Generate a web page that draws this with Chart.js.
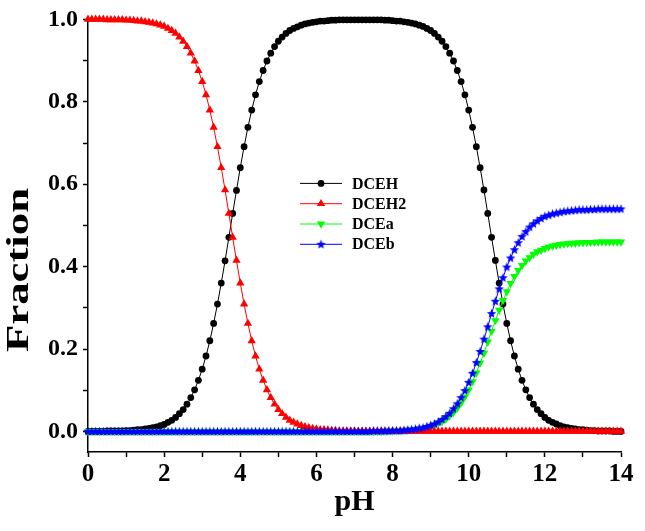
<!DOCTYPE html>
<html>
<head>
<meta charset="utf-8">
<script src="https://cdn.jsdelivr.net/npm/chart.js@4"></script>
<style>
  html, body { margin: 0; padding: 0; background: #fff; }
  #wrap { width: 645px; height: 531px; position: relative; }
</style>
</head>
<body>
<div id="wrap"><canvas id="fractionChart"></canvas></div>
<script>
// pH grid (x values)
const phValues = [
  0,0.1,0.2,0.3,0.4,0.5,0.6,0.7,0.8,0.9,
  1,1.1,1.2,1.3,1.4,1.5,1.6,1.7,1.8,1.9,
  2,2.1,2.2,2.3,2.4,2.5,2.6,2.7,2.8,2.9,
  3,3.1,3.2,3.3,3.4,3.5,3.6,3.7,3.8,3.9,
  4,4.1,4.2,4.3,4.4,4.5,4.6,4.7,4.8,4.9,
  5,5.1,5.2,5.3,5.4,5.5,5.6,5.7,5.8,5.9,
  6,6.1,6.2,6.3,6.4,6.5,6.6,6.7,6.8,6.9,
  7,7.1,7.2,7.3,7.4,7.5,7.6,7.7,7.8,7.9,
  8,8.1,8.2,8.3,8.4,8.5,8.6,8.7,8.8,8.9,
  9,9.1,9.2,9.3,9.4,9.5,9.6,9.7,9.8,9.9,
  10,10.1,10.2,10.3,10.4,10.5,10.6,10.7,10.8,10.9,
  11,11.1,11.2,11.3,11.4,11.5,11.6,11.7,11.8,11.9,
  12,12.1,12.2,12.3,12.4,12.5,12.6,12.7,12.8,12.9,
  13,13.1,13.2,13.3,13.4,13.5,13.6,13.7,13.8,13.9,
  14
];

const dceh = [
  0,0,0,0,0,0.001,0.001,0.001,0.001,0.001,
  0.002,0.002,0.003,0.004,0.004,0.006,0.007,0.009,0.011,0.014,
  0.017,0.022,0.027,0.034,0.043,0.053,0.066,0.082,0.101,0.124,
  0.151,0.183,0.220,0.262,0.309,0.360,0.414,0.471,0.529,0.585,
  0.640,0.691,0.738,0.780,0.817,0.849,0.876,0.899,0.918,0.934,
  0.947,0.957,0.966,0.973,0.978,0.982,0.986,0.989,0.991,0.993,
  0.994,0.996,0.996,0.997,0.998,0.998,0.999,0.999,0.999,0.999,
  0.999,0.999,0.999,0.999,0.999,0.999,0.999,0.999,0.998,0.998,
  0.997,0.996,0.996,0.994,0.993,0.991,0.989,0.986,0.983,0.978,
  0.973,0.966,0.957,0.947,0.934,0.918,0.899,0.876,0.849,0.817,
  0.780,0.738,0.691,0.640,0.586,0.529,0.471,0.415,0.360,0.309,
  0.262,0.220,0.183,0.151,0.124,0.101,0.082,0.066,0.053,0.043,
  0.034,0.027,0.022,0.018,0.014,0.011,0.009,0.007,0.006,0.004,
  0.004,0.003,0.002,0.002,0.001,0.001,0.001,0.001,0,0,
  0
];

const dceh2 = [
  1.000,1.000,1.000,1.000,1.000,0.999,0.999,0.999,0.999,0.999,
  0.998,0.998,0.997,0.996,0.996,0.994,0.993,0.991,0.989,0.986,
  0.983,0.978,0.973,0.966,0.957,0.947,0.934,0.918,0.899,0.876,
  0.849,0.817,0.780,0.738,0.691,0.640,0.586,0.529,0.471,0.415,
  0.360,0.309,0.262,0.220,0.183,0.151,0.124,0.101,0.082,0.066,
  0.053,0.043,0.034,0.027,0.022,0.018,0.014,0.011,0.009,0.007,
  0.006,0.004,0.004,0.003,0.002,0.002,0.001,0.001,0.001,0.001,
  0.001,0,0,0,0,0,0,0,0,0,
  0,0,0,0,0,0,0,0,0,0,
  0,0,0,0,0,0,0,0,0,0,
  0,0,0,0,0,0,0,0,0,0,
  0,0,0,0,0,0,0,0,0,0,
  0,0,0,0,0,0,0,0,0,0,
  0,0,0,0,0,0,0,0,0,0,
  0
];

const dcea = [
  0,0,0,0,0,0,0,0,0,0,
  0,0,0,0,0,0,0,0,0,0,
  0,0,0,0,0,0,0,0,0,0,
  0,0,0,0,0,0,0,0,0,0,
  0,0,0,0,0,0,0,0,0,0,
  0,0,0,0,0,0,0,0,0,0,
  0,0,0,0,0,0,0,0,0,0,
  0,0,0,0,0,0,0,0,0.001,0.001,
  0.001,0.002,0.002,0.003,0.003,0.004,0.005,0.006,0.008,0.010,
  0.012,0.016,0.020,0.024,0.030,0.038,0.046,0.057,0.069,0.084,
  0.101,0.121,0.142,0.166,0.190,0.217,0.243,0.269,0.294,0.318,
  0.339,0.359,0.376,0.391,0.403,0.414,0.422,0.430,0.436,0.440,
  0.444,0.448,0.450,0.452,0.454,0.455,0.456,0.457,0.457,0.458,
  0.458,0.459,0.459,0.459,0.460,0.460,0.460,0.460,0.460,0.460,
  0.460
];

const dceb = [
  0,0,0,0,0,0,0,0,0,0,
  0,0,0,0,0,0,0,0,0,0,
  0,0,0,0,0,0,0,0,0,0,
  0,0,0,0,0,0,0,0,0,0,
  0,0,0,0,0,0,0,0,0,0,
  0,0,0,0,0,0,0,0,0,0,
  0,0,0,0,0,0,0,0,0,0,
  0,0,0,0,0,0.001,0.001,0.001,0.001,0.001,
  0.002,0.002,0.002,0.003,0.004,0.005,0.006,0.008,0.009,0.012,
  0.015,0.018,0.023,0.029,0.036,0.044,0.055,0.067,0.082,0.099,
  0.119,0.141,0.167,0.194,0.224,0.254,0.286,0.316,0.346,0.373,
  0.399,0.421,0.441,0.458,0.473,0.485,0.496,0.504,0.511,0.517,
  0.522,0.525,0.528,0.530,0.532,0.534,0.535,0.536,0.537,0.538,
  0.538,0.538,0.539,0.539,0.540,0.540,0.540,0.540,0.540,0.540,
  0.540
];

const seriesNames = ['DCEH', 'DCEH2', 'DCEa', 'DCEb'];
const xTickValues = [0,1,2,3,4,5,6,7,8,9,10,11,12,13,14];
const yTickValues = [0,0.1,0.2,0.3,0.4,0.5,0.6,0.7,0.8,0.9,1.0];

const serif = "'Liberation Serif', 'Times New Roman', serif";

// filled 5-point star for DCEb markers
function makeStar(color) {
  const c = document.createElement('canvas');
  c.width = 11; c.height = 11;
  const g = c.getContext('2d');
  g.fillStyle = color;
  g.beginPath();
  for (let i = 0; i < 10; i++) {
    const r = i % 2 === 0 ? 5 : 2.1;
    const a = -Math.PI / 2 + i * Math.PI / 5;
    const px = 5.5 + r * Math.cos(a), py = 5.8 + r * Math.sin(a);
    i === 0 ? g.moveTo(px, py) : g.lineTo(px, py);
  }
  g.closePath();
  g.fill();
  return c;
}
const starImg = makeStar('#0000ff');

function pts(arr) {
  return phValues.map((x, i) => ({ x: x, y: arr[i] }));
}

const datasets = [
  { label: seriesNames[0], data: pts(dceh), borderColor: '#000000', backgroundColor: '#000000',
    pointStyle: 'circle', pointRadius: 3.4, pointRotation: 0, order: 3 },
  { label: seriesNames[1], data: pts(dceh2), borderColor: '#ff0000', backgroundColor: '#ff0000',
    pointStyle: 'triangle', pointRadius: 4.8, pointRotation: 0, order: 1 },
  { label: seriesNames[2], data: pts(dcea), borderColor: '#00ff00', backgroundColor: '#00ff00',
    pointStyle: 'triangle', pointRadius: 4.8, pointRotation: 180, order: 2 },
  { label: seriesNames[3], data: pts(dceb), borderColor: '#0000ff', backgroundColor: '#0000ff',
    pointStyle: starImg, pointRadius: 4.5, pointRotation: 0, order: 0 }
].map(d => Object.assign(d, {
  borderWidth: 1,
  pointBorderWidth: 0,
  tension: 0,
  clip: false
}));

// legend inside the plot + rotated y title
const extras = {
  id: 'extras',
  afterDraw(chart) {
    const ctx = chart.ctx;
    const area = chart.chartArea;
    ctx.save();
    // y axis title (stretched along its length like the original)
    ctx.translate(20, 270);
    ctx.rotate(-Math.PI / 2);
    ctx.scale(1.4, 1);
    ctx.fillStyle = '#000';
    ctx.font = 'bold 32px ' + serif;
    ctx.textAlign = 'center';
    ctx.textBaseline = 'middle';
    ctx.fillText('Fraction', 0, 0);
    ctx.restore();

    ctx.save();
    const x0 = area.left + 212, x1 = area.left + 254, xm = (x0 + x1) / 2;
    chart.data.datasets.forEach((ds, i) => {
      const y = area.top + 164 + i * 20.3;
      ctx.strokeStyle = ds.borderColor;
      ctx.lineWidth = 1;
      ctx.beginPath();
      ctx.moveTo(x0, y);
      ctx.lineTo(x1, y);
      ctx.stroke();
      ctx.fillStyle = ds.backgroundColor;
      Chart.helpers.drawPoint(ctx, {
        pointStyle: ds.pointStyle, radius: ds.pointRadius,
        rotation: ds.pointRotation, borderWidth: 0
      }, xm, y);
      ctx.fillStyle = '#000';
      ctx.font = 'bold 16px ' + serif;
      ctx.textAlign = 'left';
      ctx.textBaseline = 'middle';
      ctx.fillText(ds.label, area.left + 264, y + 1);
    });
    ctx.restore();
  }
};

new Chart(document.getElementById('fractionChart'), {
  type: 'line',
  data: { datasets: datasets },
  options: {
    responsive: true,
    maintainAspectRatio: false,
    animation: false,
    devicePixelRatio: 1,
    events: [],
    layout: { padding: { top: 19, right: 24, left: 0, bottom: 0 } },
    plugins: { legend: { display: false }, tooltip: { enabled: false } },
    scales: {
      x: {
        type: 'linear',
        min: 0,
        max: 14,
        afterFit: s => { s.height = 79; },
        afterBuildTicks: s => { s.ticks = xTickValues.map(v => ({ value: v })); },
        ticks: {
          autoSkip: false,
          maxRotation: 0,
          padding: 3,
          color: '#000',
          font: { family: serif, weight: 'bold', size: 25 },
          callback: v => (v % 2 === 0 ? String(v) : '')
        },
        grid: { drawOnChartArea: false, drawTicks: true, tickLength: 5, tickColor: '#000', tickWidth: 1.5 },
        border: { color: '#000', width: 1.5 },
        title: {
          display: true,
          text: 'pH',
          color: '#000',
          font: { family: serif, weight: 'bold', size: 30 },
          padding: { top: 0, bottom: 11 }
        }
      },
      y: {
        type: 'linear',
        min: -0.05,
        max: 1.0,
        afterFit: s => { s.width = 88; },
        afterBuildTicks: s => { s.ticks = yTickValues.map(v => ({ value: v })); },
        ticks: {
          autoSkip: false,
          padding: 5,
          color: '#000',
          font: { family: serif, weight: 'bold', size: 24 },
          callback: v => (Math.round(v * 10) % 2 === 0 ? v.toFixed(1) : '')
        },
        grid: { drawOnChartArea: false, drawTicks: true, tickLength: 5, tickColor: '#000', tickWidth: 1.5 },
        border: { color: '#000', width: 1.5 }
      }
    }
  },
  plugins: [extras]
});
</script>
</body>
</html>
